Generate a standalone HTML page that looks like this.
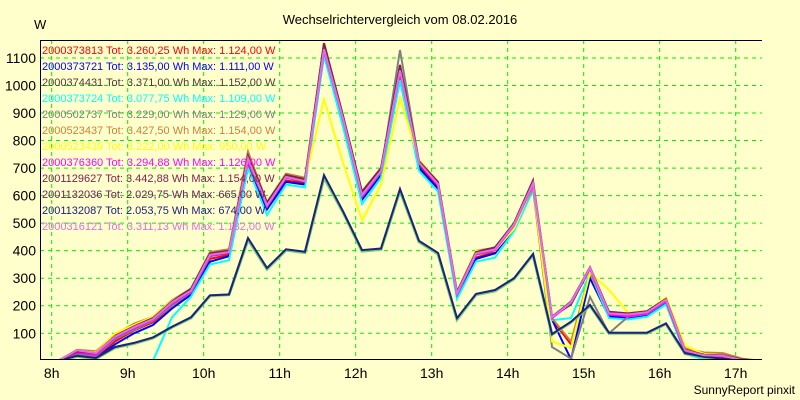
<!DOCTYPE html>
<html><head><meta charset="utf-8"><style>
body{margin:0;background:#FFFFCC;}
svg{display:block;font-family:"Liberation Sans",sans-serif;}
</style></head><body>
<svg id="chart" width="800" height="400" viewBox="0 0 800 400">
<rect x="0" y="0" width="800" height="400" fill="#FFFFCC"/>
<text x="400" y="24" text-anchor="middle" font-size="13" fill="#000">Wechselrichtervergleich vom 08.02.2016</text>
<text x="34" y="29" font-size="13" fill="#000">W</text>
<text x="795" y="394" text-anchor="end" font-size="12" fill="#000">SunnyReport pinxit</text>
<defs><clipPath id="pc"><rect x="40" y="40" width="722" height="319"/></clipPath></defs>
<g id="grid"></g>
<g id="series" clip-path="url(#pc)"></g>
<g id="axes"></g>
<g id="legend"></g>
</svg>
<script>
const yTicks=[100,200,300,400,500,600,700,800,900,1000,1100];
const xTickLabels=["8h","9h","10h","11h","12h","13h","14h","15h","16h","17h"];
const seriesNames=["2000373813","2000373721","2000374431","2000373724","2000502737","2000523437","2000523439","2000376360","2001129627","2001132036","2001132087","2000316121"];
const seriesTotals=["3.260,25","3.135,00","3.371,00","3.077,75","3.229,00","3.427,50","3.222,00","3.294,88","3.442,88","2.029,75","2.053,75","3.311,13"];
const seriesMax=["1.124,00","1.111,00","1.152,00","1.109,00","1.129,00","1.154,00","950,00","1.126,00","1.154,00","665,00","674,00","1.132,00"];
const colors=["#FF0000","#0000FF","#503838","#00FFFF","#808080","#C8823C","#FFFF00","#FF00FF","#802050","#70D070","#202080","#E070E0"];
const legendColors=["#FF0000","#0000FF","#503838","#00FFFF","#808080","#C8823C","#FFFF00","#FF00FF","#802050","#702060","#202080","#E070E0"];
const s0=[0,0,20,15,70,110,140,200,245,370,385,710,555,655,645,1124,870,590,680,1030,710,630,235,375,395,485,630,150,60,320,165,160,170,212,30,15,12,2,0];
const s1=[0,0,15,10,60,100,130,190,240,360,380,700,550,650,640,1111,860,585,675,1020,700,625,230,370,390,480,625,150,5,300,160,155,165,210,28,14,10,2,0];
const s2=[0,0,25,20,80,115,148,205,250,380,392,740,560,665,650,1152,880,600,690,1060,715,640,245,388,402,495,645,160,205,335,168,165,172,218,33,20,15,3,0];
const s3=[0,0,0,0,0,0,0,158,233,350,365,700,530,640,630,1109,850,570,665,1020,690,615,225,360,375,470,620,148,155,320,155,150,160,205,25,5,5,0,0];
const s4=[0,0,22,18,78,112,145,200,248,378,400,725,560,665,655,1129,875,595,685,1129,720,640,240,385,400,490,630,50,8,232,100,160,170,215,30,15,12,2,0];
const s5=[0,0,40,35,95,135,160,220,262,395,405,760,575,680,665,1154,890,610,700,1070,725,650,250,400,410,500,648,155,70,320,175,170,178,225,45,30,28,8,0];
const s6=[0,0,35,30,100,130,160,218,258,385,398,740,570,675,660,950,720,510,640,955,730,650,250,400,400,480,640,70,47,320,257,175,180,230,55,25,20,3,0];
const s7=[0,0,30,22,85,118,150,208,252,382,393,730,562,665,652,1126,880,598,688,1050,718,638,242,388,402,492,640,155,210,335,168,162,172,218,33,18,15,3,0];
const s8=[0,0,35,28,90,125,155,215,262,390,400,745,575,675,660,1154,890,615,700,1075,725,650,250,395,412,500,655,160,215,340,178,172,180,225,40,22,20,5,0];
const s9=[0,0,16,8,48,63,83,122,156,236,240,440,333,402,393,665,540,398,405,618,432,388,150,240,254,297,385,95,140,200,100,100,100,134,26,13,6,0,0];
const s10=[0,0,18,10,50,65,85,124,158,238,241,446,337,405,396,674,543,402,408,624,436,392,155,243,257,300,388,97,142,203,102,102,102,136,28,15,8,0,0];
const s11=[0,0,38,28,88,122,152,212,255,385,395,735,565,668,652,1132,880,602,690,1055,720,642,245,390,405,495,645,158,212,338,172,168,176,222,38,20,18,3,0];
const allSeries=[s0,s1,s2,s3,s4,s5,s6,s7,s8,s9,s10,s11];

const NS="http://www.w3.org/2000/svg";
function xScale(min){return 51.7+min*76/60;}
function yScale(v){return 360.8-v*0.2753;}
function pointTime(i){return -10+15*i;}
function mk(tag,attrs,parent){const e=document.createElementNS(NS,tag);for(const k in attrs)e.setAttribute(k,attrs[k]);parent.appendChild(e);return e;}

const grid=document.getElementById('grid');
yTicks.forEach(v=>{
  const l=mk('line',{x1:40,x2:762,y1:yScale(v),y2:yScale(v),stroke:'#00F000','stroke-dasharray':'4,4','stroke-width':1},grid);
  
  
  const t=mk('text',{x:36,y:yScale(v)+5,'text-anchor':'end','font-size':14,fill:'#000'},grid);
  t.textContent=v;
  
  
});
xTickLabels.forEach((lab,i)=>{
  const x=xScale(i*60);
  const l=mk('line',{x1:x,x2:x,y1:40,y2:359,stroke:'#00F000','stroke-dasharray':'4,4','stroke-width':1},grid);
  
  
  const t=mk('text',{x:x,y:378,'text-anchor':'middle','font-size':14,fill:'#000'},grid);
  t.textContent=lab;
  
  
});

const sg=document.getElementById('series');
allSeries.forEach((d,si)=>{
  const pts=d.map((v,i)=>xScale(pointTime(i)).toFixed(1)+','+yScale(v).toFixed(1)).join(' ');
  const pl=mk('polyline',{points:pts,fill:'none',stroke:colors[si],'stroke-width':(si===9?3:2),'stroke-linejoin':'miter'},sg);
  
  
});

const ax=document.getElementById('axes');
const a1=mk('path',{d:'M40.5,40.5 L762,40.5 M40.5,40 L40.5,359.5 L762,359.5',stroke:'#000','stroke-width':1,fill:'none'},ax);



const lg=document.getElementById('legend');
seriesNames.forEach((n,i)=>{
  const t=mk('text',{x:42,y:54+i*16,'font-size':11,fill:legendColors[i]},lg);
  t.textContent=n+" Tot: "+seriesTotals[i]+" Wh Max: "+seriesMax[i]+" W";
  
  
});
</script>
</body></html>
